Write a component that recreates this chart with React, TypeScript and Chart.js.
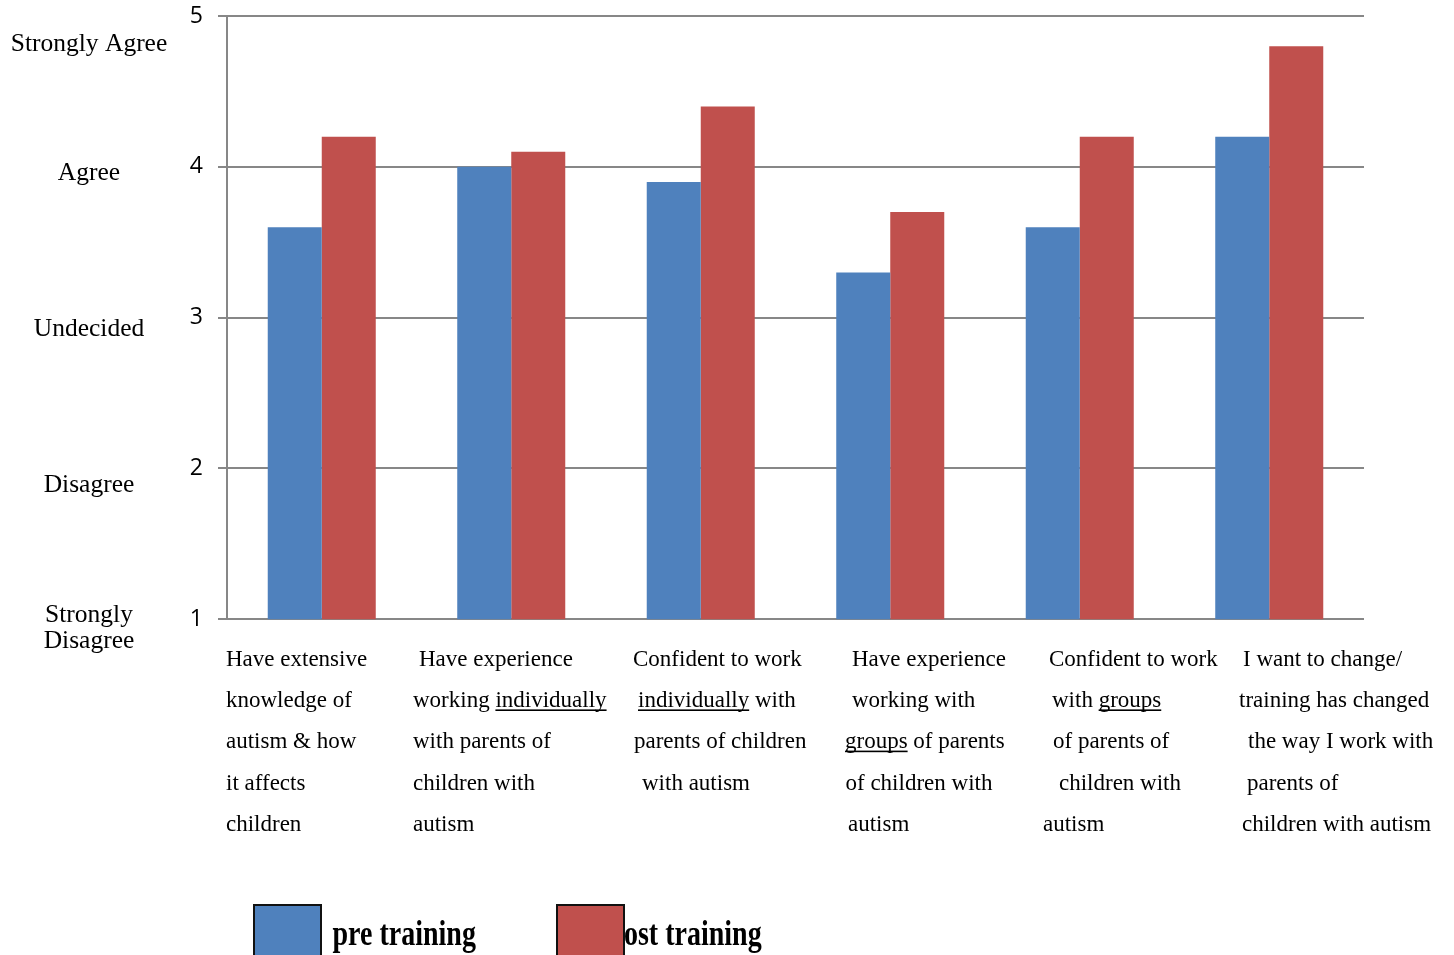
import React, { useEffect, useRef } from 'react';
import { Chart, registerables } from 'chart.js';

Chart.register(...registerables);

// ---------- data ----------
const categories = [
  'Have extensive knowledge of autism & how it affects children',
  'Have experience working individually with parents of children with autism',
  'Confident to work individually with parents of children with autism',
  'Have experience working with groups of parents of children with autism',
  'Confident to work with groups of parents of children with autism',
  'I want to change/ training has changed the way I work with parents of children with autism',
];

// category label lines; words between underscores are underlined
const categoryLines: string[][] = [
  ['Have extensive', 'knowledge of', 'autism & how', 'it affects', 'children'],
  ['Have experience', 'working _individually_', 'with parents of', 'children with', 'autism'],
  ['Confident to work', '_individually_ with', 'parents of children', 'with autism'],
  ['Have experience', 'working with', '_groups_ of parents', 'of children with', 'autism'],
  ['Confident to work', 'with _groups_', 'of parents of', 'children with', 'autism'],
  ['I want to change/', 'training has changed', 'the way I work with', 'parents of', 'children with autism'],
];

const preTraining = [3.6, 4.0, 3.9, 3.3, 3.6, 4.2];
const postTraining = [4.2, 4.1, 4.4, 3.7, 4.2, 4.8];
const seriesNames = ['pre training', 'post training'];
const yMin = 1;
const yMax = 5;
const yStep = 1;
const scaleLabels: string[][] = [
  ['Strongly', 'Disagree'],
  ['Disagree'],
  ['Undecided'],
  ['Agree'],
  ['Strongly Agree'],
];

// ---------- layout / style ----------
const W = 1454;
const H = 955;
const BLUE = '#4f81bd';
const RED = '#c0504d';
const GRID = '#878787';
const SERIF = '"Liberation Serif", "Times New Roman", serif';
const LINE_OFFSETS = [
  [-1, -1, -1, -1, -1],
  [2.5, -3.5, -3.5, -3.5, -3.5],
  [27, 32, 28, 36],
  [56.5, 56.5, 49.5, 50, 52.5],
  [64, 67, 68, 74, 58],
  [68.5, 64.5, 73.5, 72.5, 67.5],
];
const LABEL_BASE_Y = 666;
const LABEL_LINE_GAP = 41.2;
const SCALE_LABEL_X = 89;
const SCALE_LABEL_BASELINES = [[622, 647.7], [491.7], [335.7], [180], [51]];
const LEGEND_BOXES = [
  { x: 254, textX: 332.5 },
  { x: 557, textX: 608.4 },
];

const labelPlugin = {
  id: 'customLabels',
  afterDraw(chart: any) {
    const ctx: CanvasRenderingContext2D = chart.ctx;
    const area = chart.chartArea;
    const n = categories.length;
    const catW = (area.right - area.left) / n;
    ctx.save();
    ctx.fillStyle = '#000';
    ctx.textBaseline = 'alphabetic';
    ctx.textAlign = 'left';

    // category labels
    ctx.font = `23px ${SERIF}`;
    categoryLines.forEach((lines, i) => {
      const left = chart.scales.x.getPixelForValue(i) - catW / 2;
      lines.forEach((line, j) => {
        let x = left + LINE_OFFSETS[i][j];
        const y = LABEL_BASE_Y + j * LABEL_LINE_GAP;
        const parts = line.split('_');
        parts.forEach((part, k) => {
          if (!part) return;
          ctx.fillText(part, x, y);
          const w = ctx.measureText(part).width;
          if (k % 2 === 1) {
            ctx.fillRect(x, y + 2.2, w, 1.6);
          }
          x += w;
        });
      });
    });

    // verbal scale labels
    ctx.font = `25.5px ${SERIF}`;
    ctx.textAlign = 'center';
    scaleLabels.forEach((lines, i) => {
      lines.forEach((line, j) => {
        ctx.fillText(line, SCALE_LABEL_X, SCALE_LABEL_BASELINES[i][j]);
      });
    });

    // legend
    ctx.textAlign = 'left';
    ctx.font = `bold 35px ${SERIF}`;
    const colors = [BLUE, RED];
    seriesNames.forEach((name, i) => {
      const b = LEGEND_BOXES[i];
      ctx.save();
      ctx.translate(b.textX, 945);
      ctx.scale(0.8, 1);
      ctx.fillStyle = '#000';
      ctx.fillText(name, 0, 0);
      ctx.restore();
      ctx.fillStyle = colors[i];
      ctx.fillRect(b.x, 905, 67, 52);
      ctx.strokeStyle = '#111';
      ctx.lineWidth = 2;
      ctx.strokeRect(b.x, 905, 67, 52);
    });
    ctx.restore();
  },
};

export default function App() {
  const ref = useRef<HTMLCanvasElement | null>(null);

  useEffect(() => {
    if (!ref.current) return;
    const chart = new Chart(ref.current, {
      type: 'bar',
      data: {
        labels: categories,
        datasets: [
          {
            label: seriesNames[0],
            data: preTraining,
            backgroundColor: BLUE,
            borderWidth: 0,
          },
          {
            label: seriesNames[1],
            data: postTraining,
            backgroundColor: RED,
            borderWidth: 0,
          },
        ],
      },
      options: {
        responsive: false,
        animation: false,
        devicePixelRatio: 1,
        layout: { padding: { left: 0, top: 16, right: 90, bottom: 335.7 } },
        datasets: { bar: { categoryPercentage: 0.57, barPercentage: 1 } } as any,
        plugins: {
          legend: { display: false },
          tooltip: { enabled: false },
        },
        scales: {
          x: { display: false, offset: true },
          y: {
            min: yMin,
            max: yMax,
            ticks: {
              stepSize: yStep,
              padding: 15,
              color: '#000',
              font: { family: '"Open Sans", "Liberation Sans", sans-serif', size: 23 },
            },
            grid: { color: GRID, lineWidth: 2, tickLength: 9, drawTicks: true },
            border: { display: true, color: GRID, width: 2 },
            afterFit: (s: any) => {
              s.width = 227;
              s.paddingTop = 0;
              s.paddingBottom = 0;
            },
          },
        },
      },
      plugins: [labelPlugin],
    });
    return () => chart.destroy();
  }, []);

  return (
    <div style={{ position: 'fixed', left: 0, top: 0, width: W, height: H, background: '#fff' }}>
      <canvas ref={ref} width={W} height={H} style={{ display: 'block' }} />
    </div>
  );
}
